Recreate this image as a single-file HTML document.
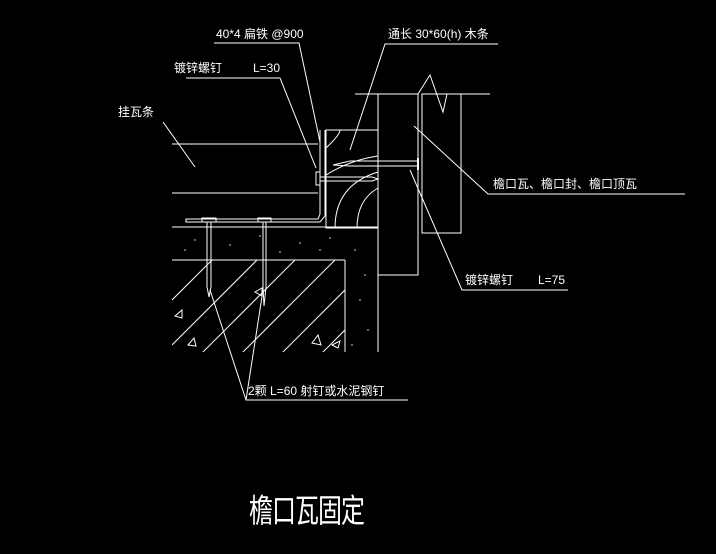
<!DOCTYPE html>
<html><head><meta charset="utf-8"><style>
html,body{margin:0;padding:0;background:#000;width:716px;height:554px;overflow:hidden}
svg{display:block}
text{fill:#fff;font-family:"Liberation Sans","Noto Sans CJK SC",sans-serif;font-size:12px}
</style></head><body>
<svg width="716" height="554" viewBox="0 0 716 554" xmlns="http://www.w3.org/2000/svg">
<g stroke="#fff" stroke-width="1" fill="none">
<!-- labels underlines and leaders -->
<polyline points="214,43 299,43 320,142"/>
<polyline points="498,44 385,44 350,150"/>
<polyline points="186,78 280,78 316,168"/>
<polyline points="163,122 195,167"/>
<polyline points="685,194 488,194 414,126"/>
<polyline points="568,290 462,290 410,170"/>
<polyline points="408,400 246,400 210,290"/>
<polyline points="246,400 263,290"/>
<!-- batten -->
<line x1="172" y1="144" x2="318" y2="144"/>
<line x1="172" y1="193" x2="318" y2="193"/>
<!-- metal strip -->
<polyline points="320,130 320,214 318,219 186,219 186,222 320,222 325,216 325,130"/>
<rect x="316" y="172" width="4" height="13"/>
<!-- box -->
<rect x="326" y="130" width="52" height="98"/>
<path d="M326,175 Q350,160 378,156"/>
<path d="M335,228 Q335,185 378,172"/>
<path d="M357,228 Q357,200 378,188"/>
<path d="M326,148 Q340,135 340,130"/>
<!-- nail through box -->
<polyline points="333,165 350,161 418,161 418,166 350,166 333,165"/>
<polyline points="320,177 372,177 378,179 372,181 320,181"/>
<!-- tile column -->
<rect x="378" y="94" width="40" height="181"/>
<line x1="355" y1="94" x2="378" y2="94"/>
<rect x="422" y="94" width="39" height="139"/>
<polyline points="418,94 430,75 443,112 447,94 490,94"/>
<line x1="418" y1="158" x2="418" y2="170" stroke-width="2"/>
<!-- screed -->
<line x1="172" y1="227" x2="378" y2="227"/>
<line x1="378" y1="227" x2="378" y2="352"/>
<line x1="172" y1="260" x2="345" y2="260"/>
<line x1="345" y1="260" x2="345" y2="352"/>
<!-- hatch -->
<clipPath id="c"><rect x="172" y="260" width="173" height="92"/></clipPath>
<g clip-path="url(#c)">
<line x1="172" y1="300" x2="220" y2="252"/>
<line x1="172" y1="345" x2="265" y2="252"/>
<line x1="195" y1="360" x2="305" y2="250"/>
<line x1="235" y1="360" x2="345" y2="250"/>
<line x1="275" y1="360" x2="385" y2="250"/>
<line x1="315" y1="360" x2="425" y2="250"/>
</g>
<!-- nails in concrete -->
<rect x="202" y="218" width="14" height="4"/>
<rect x="258" y="218" width="13" height="4"/>
<polyline points="207,222 207,287 209,297 211,287 211,222"/>
<polyline points="263,222 263,287 264,306 266,287 266,222"/>
<!-- triangles -->
<path d="M175,316 L182,310 L182,318 Z"/>
<path d="M188,345 L194,338 L196,346 Z"/>
<path d="M312,343 L318,335 L321,345 Z"/>
<path d="M332,345 L340,341 L338,348 Z"/>
<path d="M255,292 L262,288 L262,296 Z"/>
</g>
<g fill="#fff" stroke="none">
<circle cx="195" cy="240" r=".7"/><circle cx="230" cy="245" r=".7"/><circle cx="260" cy="236" r=".7"/><circle cx="300" cy="243" r=".7"/><circle cx="330" cy="238" r=".7"/><circle cx="355" cy="250" r=".7"/><circle cx="365" cy="275" r=".7"/><circle cx="360" cy="300" r=".7"/><circle cx="368" cy="330" r=".7"/><circle cx="352" cy="345" r=".7"/><circle cx="185" cy="250" r=".7"/><circle cx="280" cy="252" r=".7"/><circle cx="320" cy="250" r=".7"/>
</g>
<text x="216" y="38">40*4 扁铁 @900</text>
<text x="388" y="38">通长 30*60(h) 木条</text>
<text x="174" y="72">镀锌螺钉</text>
<text x="253" y="72">L=30</text>
<text x="118" y="116">挂瓦条</text>
<text x="493" y="188">檐口瓦、檐口封、檐口顶瓦</text>
<text x="465" y="284">镀锌螺钉</text>
<text x="538" y="284">L=75</text>
<text x="248" y="395">2颗 L=60 射钉或水泥钢钉</text>
<text x="249" y="520" style="font-size:24px;letter-spacing:-1px" transform="translate(0,-180) scale(1,1.35)" transform-origin="0 0">檐口瓦固定</text>
</svg>
</body></html>
